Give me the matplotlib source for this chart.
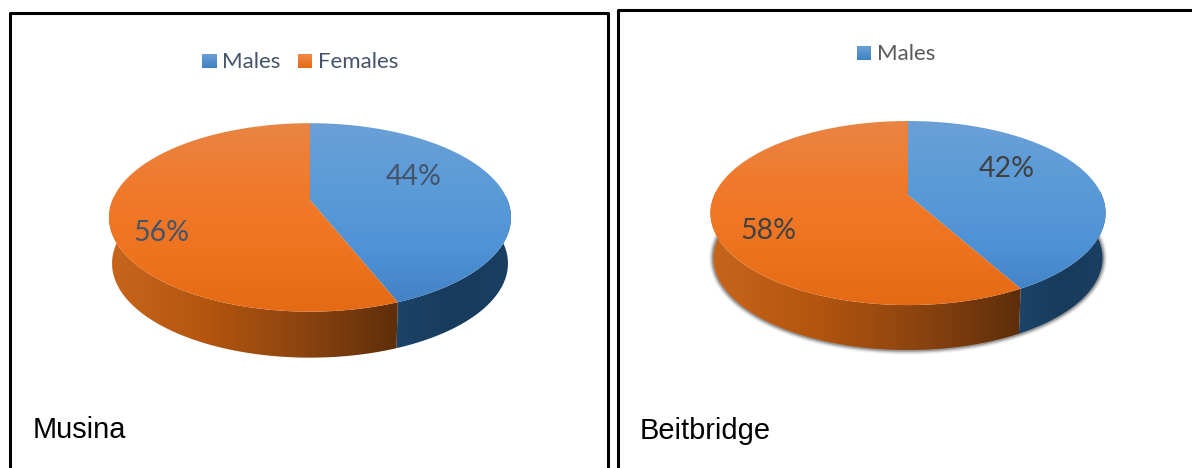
import numpy as np
import matplotlib
matplotlib.use('Agg')
import matplotlib.pyplot as plt
from matplotlib.colors import LinearSegmentedColormap
from matplotlib.patches import Polygon

# values
sites = ['Musina', 'Beitbridge']
groups = ['Males', 'Females']
musina_pct = [44, 56]
beitbridge_pct = [42, 58]

W, H = 1192, 468
N = 240

top_blue = ['#6ba0d6', '#5b9bd8', '#4f92d6', '#3f80c2']
top_orange = ['#e98544', '#f07a2c', '#ee7420', '#e56a14']
side_blue = ['#1b4468', '#183b5c', '#1a3f62']
side_orange = ['#c8651c', '#b4560f', '#8c4410', '#5e2e0a']


def project(ang, vx, vy, sx, sy, k):
    # 角度从正上方顺时针，加一点透视
    X, Y = np.sin(ang), np.cos(ang)
    w = 1 + k * Y
    return vx + sx * X / w, vy - sy * Y / w


def fill_grad(ax, pts, colors, horizontal=False):
    cmap = LinearSegmentedColormap.from_list('g', colors)
    pts = np.asarray(pts)
    x0, x1 = pts[:, 0].min(), pts[:, 0].max()
    y0, y1 = pts[:, 1].min(), pts[:, 1].max()
    g = np.linspace(0, 1, 256)
    g = g.reshape(1, -1) if horizontal else g.reshape(-1, 1)
    im = ax.imshow(g, cmap=cmap, extent=(x0, x1, y1, y0), aspect='auto',
                   interpolation='bilinear', zorder=3)
    im.set_clip_path(Polygon(pts, closed=True, transform=ax.transData))


def pie3d(ax, values, vx, vy, sx, sy, k, depth, shadow=False):
    fracs = np.array(values) / sum(values)
    edges = np.concatenate([[0], np.cumsum(fracs)]) * 2 * np.pi

    if shadow:
        t = np.linspace(np.pi * 0.45, np.pi * 1.55, N)
        x, y = project(t, vx, vy, sx, sy, k)
        x = vx + (x - vx) * 0.985
        for lw, a in [(6.5, 0.06), (5, 0.1), (3.6, 0.16), (2.2, 0.28)]:
            ax.plot(x, y + depth, color='#303030', lw=lw, alpha=a, zorder=2)

    # 侧面
    for i, colors in enumerate([side_blue, side_orange]):
        t = np.linspace(edges[i], edges[i + 1], N)
        t = t[(t > np.pi / 2 - 0.05) & (t < 3 * np.pi / 2 + 0.05)]
        x, y = project(t, vx, vy, sx, sy, k)
        xb = vx + (x - vx) * 0.985
        pts = np.vstack([np.c_[x, y], np.c_[xb[::-1], y[::-1] + depth]])
        fill_grad(ax, pts, colors, horizontal=True)

    # 顶面
    xa, ya = project(np.linspace(0, 2 * np.pi, N), vx, vy, sx, sy, k)
    for i, colors in enumerate([top_blue, top_orange]):
        t = np.linspace(edges[i], edges[i + 1], N)
        x, y = project(t, vx, vy, sx, sy, k)
        pts = np.vstack([[vx, vy], np.c_[x, y]])
        cmap = LinearSegmentedColormap.from_list('g', colors)
        g = np.linspace(0, 1, 256).reshape(-1, 1)
        im = ax.imshow(g, cmap=cmap, extent=(xa.min(), xa.max(), ya.max(), ya.min()),
                       aspect='auto', interpolation='bilinear', zorder=4)
        im.set_clip_path(Polygon(pts, closed=True, transform=ax.transData))


fig = plt.figure(figsize=(W / 100, H / 100), dpi=100)
ax = fig.add_axes([0, 0, 1, 1])

pie3d(ax, musina_pct, 310, 200, 197.5, 91, 0.185, 46)
pie3d(ax, beitbridge_pct, 908, 195, 193.7, 88.5, 0.196, 45, shadow=True)

ax.axis('off')

# 外框
ax.plot([10, 10, 608, 608], [H, 12.5, 12.5, H], color='black', lw=2.2, zorder=6)
ax.plot([618, 618, W + 5], [H, 9.5, 9.5], color='black', lw=2.2, zorder=6)

# 图例
fs_leg = 16
fill_grad(ax, [(202, 54), (217, 54), (217, 68), (202, 68)], ['#6ba0d6', '#3f80c2'])
ax.text(222, 62, groups[0], fontsize=fs_leg, family='Lato', color='#44546a', va='center', zorder=7)
fill_grad(ax, [(298, 54), (312, 54), (312, 68), (298, 68)], ['#f08a44', '#e56a14'])
ax.text(318, 62, groups[1], fontsize=fs_leg, family='Lato', color='#44546a', va='center', zorder=7)
fill_grad(ax, [(857, 46), (871, 46), (871, 60), (857, 60)], ['#6ba0d6', '#3f80c2'])
ax.text(877, 54, groups[0], fontsize=fs_leg, family='Lato', color='#595959', va='center', zorder=7)

# 百分比
fs_pct = 20.5
ax.text(413.5, 177, '%d%%' % musina_pct[0], fontsize=fs_pct, family='Lato', color='#44546a',
        ha='center', va='center', zorder=7)
ax.text(161.5, 233, '%d%%' % musina_pct[1], fontsize=fs_pct, family='Lato', color='#44546a',
        ha='center', va='center', zorder=7)
ax.text(1006.5, 169, '%d%%' % beitbridge_pct[0], fontsize=fs_pct, family='Lato', color='#404040',
        ha='center', va='center', zorder=7)
ax.text(768.5, 231, '%d%%' % beitbridge_pct[1], fontsize=fs_pct, family='Lato', color='#404040',
        ha='center', va='center', zorder=7)

# 地名
ax.text(33, 438, sites[0], fontsize=20.9, family='Liberation Sans', color='black', zorder=7)
ax.text(640, 439, sites[1], fontsize=20.9, family='Liberation Sans', color='black', zorder=7)

ax.set_xlim(0, W)
ax.set_ylim(H, 0)
fig.savefig('out.png', dpi=100)
